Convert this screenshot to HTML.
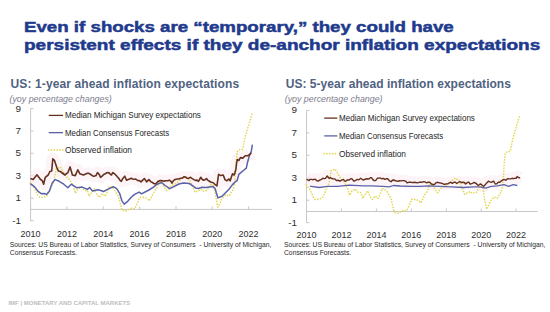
<!DOCTYPE html>
<html><head><meta charset="utf-8">
<style>
html,body{margin:0;padding:0;background:#fff;}
body{width:550px;height:312px;position:relative;overflow:hidden;font-family:"Liberation Sans",sans-serif;}
.t{position:absolute;left:24.2px;font-weight:bold;color:#213a8e;font-size:15.3px;-webkit-text-stroke:0.5px #1f3a8c;transform-origin:0 0;white-space:nowrap;line-height:18px;}
.lg{position:absolute;font-size:8.6px;transform-origin:0 50%;color:#262626;white-space:nowrap;line-height:10px;}
.yl{position:absolute;width:30px;text-align:right;font-size:9.2px;transform:scaleX(1.08);transform-origin:100% 50%;color:#2e2e2e;line-height:10px;}
.xl{position:absolute;width:40px;text-align:center;font-size:9px;color:#2e2e2e;line-height:10px;}
.ct{position:absolute;font-weight:bold;font-size:12px;color:#506281;white-space:nowrap;line-height:14px;}
.cs{position:absolute;font-style:italic;font-size:8.85px;color:#7c7c8c;white-space:nowrap;line-height:10px;}
.src{position:absolute;font-size:6.75px;color:#2a2a2a;white-space:nowrap;line-height:8.7px;}
.ft{position:absolute;left:8.4px;top:299px;font-weight:bold;font-size:6px;color:#bdbdbd;white-space:nowrap;line-height:8px;}
svg{position:absolute;left:0;top:0;}
</style></head><body>
<svg width="550" height="312" viewBox="0 0 550 312">
<line x1="30.6" y1="108.3" x2="30.6" y2="221.5" stroke="#c8c8c8" stroke-width="1"/>
<line x1="30.6" y1="108.5" x2="33.6" y2="108.5" stroke="#c8c8c8" stroke-width="1"/>
<line x1="30.6" y1="130.9" x2="33.6" y2="130.9" stroke="#c8c8c8" stroke-width="1"/>
<line x1="30.6" y1="153.3" x2="33.6" y2="153.3" stroke="#c8c8c8" stroke-width="1"/>
<line x1="30.6" y1="175.8" x2="33.6" y2="175.8" stroke="#c8c8c8" stroke-width="1"/>
<line x1="30.6" y1="198.2" x2="33.6" y2="198.2" stroke="#c8c8c8" stroke-width="1"/>
<line x1="30.6" y1="220.6" x2="33.6" y2="220.6" stroke="#c8c8c8" stroke-width="1"/>
<line x1="30.6" y1="209.4" x2="272" y2="209.4" stroke="#c8c8c8" stroke-width="1"/>
<line x1="30.6" y1="206.4" x2="30.6" y2="209.4" stroke="#c8c8c8" stroke-width="1"/>
<line x1="66.9" y1="206.4" x2="66.9" y2="209.4" stroke="#c8c8c8" stroke-width="1"/>
<line x1="103.3" y1="206.4" x2="103.3" y2="209.4" stroke="#c8c8c8" stroke-width="1"/>
<line x1="139.6" y1="206.4" x2="139.6" y2="209.4" stroke="#c8c8c8" stroke-width="1"/>
<line x1="176.0" y1="206.4" x2="176.0" y2="209.4" stroke="#c8c8c8" stroke-width="1"/>
<line x1="212.3" y1="206.4" x2="212.3" y2="209.4" stroke="#c8c8c8" stroke-width="1"/>
<line x1="248.6" y1="206.4" x2="248.6" y2="209.4" stroke="#c8c8c8" stroke-width="1"/>
<path d="M30.4,178.6 L33.2,179.6 L37.0,174.8 L40.1,179.0 L42.4,180.8 L43.6,184.2 L45.3,177.3 L48.2,175.0 L49.9,171.5 L51.7,171.0 L52.8,158.8 L54.4,160.3 L56.8,167.5 L58.3,170.9 L60.3,171.5 L64.9,175.0 L67.8,172.7 L70.1,166.9 L72.4,175.0 L75.3,175.6 L77.8,169.8 L79.9,173.8 L83.4,175.0 L87.4,173.3 L88.5,173.3 L90.0,174.0 L91.6,175.1 L93.1,176.2 L94.5,176.1 L96.0,175.6 L97.5,172.5 L99.0,174.2 L100.6,177.3 L102.1,176.1 L103.7,174.5 L105.2,173.8 L106.5,173.0 L107.9,172.6 L109.2,172.9 L110.3,174.3 L111.5,175.0 L112.7,172.7 L114.2,173.5 L115.8,175.0 L117.3,176.7 L118.6,178.1 L120.0,180.3 L121.3,181.3 L123.0,178.2 L124.8,176.2 L126.5,180.2 L128.1,179.5 L129.6,178.9 L131.2,178.2 L132.7,179.0 L134.3,179.2 L135.8,179.0 L137.5,180.5 L139.3,180.6 L141.0,181.9 L142.7,180.1 L144.4,178.5 L146.6,181.9 L147.8,180.6 L148.9,179.6 L150.7,181.6 L152.4,182.5 L154.1,183.7 L155.8,183.7 L157.6,181.8 L159.3,180.8 L160.8,180.5 L162.4,180.8 L163.9,181.3 L165.3,180.7 L166.8,180.7 L168.2,180.6 L169.7,180.2 L170.8,181.3 L172.0,183.1 L173.4,180.7 L174.9,179.6 L176.2,179.3 L177.6,179.0 L178.9,179.0 L180.6,178.3 L182.4,178.1 L184.1,176.7 L185.8,177.3 L187.0,178.2 L188.2,178.5 L189.3,177.9 L190.5,177.3 L192.2,178.6 L193.9,179.6 L195.4,180.4 L197.0,180.1 L198.5,181.3 L200.7,177.3 L202.1,179.3 L203.6,180.2 L205.1,179.7 L206.5,178.5 L207.9,180.4 L209.4,181.3 L211.1,182.3 L212.8,182.5 L216.9,186.0 L218.6,174.4 L220.9,175.6 L223.2,175.0 L225.0,179.6 L226.7,180.8 L229.0,179.0 L230.2,180.8 L232.5,173.8 L234.2,175.0 L235.9,169.2 L236.6,163.0 L237.3,159.5 L238.9,160.5 L240.4,157.6 L242.8,158.1 L245.2,155.7 L247.6,155.7 L249.5,154.7 L251.0,152.8" fill="none" stroke="#fbe3ee" stroke-width="12" stroke-linejoin="round" opacity="0.4"/>
<path d="M30.4,182.9 L33.8,186.9 L37.8,195.0 L39.5,197.3 L43.0,197.3 L46.5,196.2 L49.3,191.5 L51.7,185.8 L54.0,181.2 L56.3,168.7 L60.3,167.0 L66.1,176.2 L69.5,179.6 L73.6,186.5 L75.3,193.3 L77.6,189.2 L81.1,186.9 L84.5,190.4 L87.4,190.4 L89.0,196.2 L91.9,192.1 L94.2,188.7 L97.1,195.0 L99.4,197.3 L102.3,193.8 L105.2,196.2 L106.9,192.7 L109.2,186.3 L113.8,188.7 L118.5,196.2 L120.2,203.1 L121.9,210.0 L125.4,211.2 L131.2,208.3 L134.6,208.8 L137.5,203.1 L139.8,197.3 L142.7,197.3 L144.3,197.3 L147.2,198.5 L149.5,200.8 L151.2,197.3 L153.5,192.7 L156.4,189.2 L159.3,181.0 L161.6,181.9 L164.5,187.7 L166.8,190.6 L170.8,186.0 L176.6,183.1 L182.4,177.9 L185.8,176.2 L189.3,179.0 L192.8,187.1 L195.1,192.3 L198.5,190.6 L201.4,189.3 L202.5,191.2 L207.1,190.6 L210.5,184.5 L214.0,185.0 L216.3,199.6 L218.0,207.1 L220.3,202.5 L222.1,198.5 L225.5,195.0 L229.0,196.2 L232.5,190.4 L234.2,186.3 L235.3,176.2 L236.3,160.0 L237.5,150.9 L239.9,149.4 L242.3,149.4 L243.3,146.5 L244.2,140.8 L245.7,135.0 L252.3,113.5" fill="none" stroke="#e2d855" stroke-width="1.7" stroke-linecap="round" stroke-dasharray="0.01 2.8"/>
<path d="M30.4,183.7 L34.9,187.1 L38.4,191.7 L41.3,193.7 L44.2,193.5 L46.5,194.4 L49.3,191.2 L52.2,183.1 L55.1,179.6 L59.2,181.3 L63.8,184.2 L67.8,187.7 L71.3,184.2 L76.5,187.7 L82.2,187.1 L87.4,189.4 L89.6,187.5 L92.5,191.0 L97.7,189.8 L100.0,190.2 L103.5,191.5 L108.1,189.2 L113.3,186.7 L116.7,188.7 L119.6,193.3 L121.9,200.8 L124.2,204.2 L127.7,201.3 L131.2,197.3 L134.6,194.4 L139.2,192.1 L141.5,193.8 L148.9,190.0 L153.5,187.1 L157.0,184.2 L161.6,182.5 L165.1,185.5 L169.7,188.7 L174.3,186.3 L178.9,184.0 L183.5,182.9 L189.3,183.5 L192.8,185.8 L195.7,188.1 L198.5,188.5 L202.0,187.3 L205.9,187.5 L212.8,186.4 L215.2,188.8 L216.3,192.7 L218.0,197.9 L222.1,196.2 L225.5,192.7 L229.0,189.2 L232.5,184.6 L235.9,181.2 L237.1,180.8 L238.8,174.4 L242.8,171.0 L246.3,168.1 L247.5,162.5 L249.5,155.2 L251.0,152.8 L252.4,144.6" fill="none" stroke="#5b62a8" stroke-width="1.5" stroke-linejoin="round"/>
<path d="M30.4,178.6 L33.2,179.6 L37.0,174.8 L40.1,179.0 L42.4,180.8 L43.6,184.2 L45.3,177.3 L48.2,175.0 L49.9,171.5 L51.7,171.0 L52.8,158.8 L54.4,160.3 L56.8,167.5 L58.3,170.9 L60.3,171.5 L64.9,175.0 L67.8,172.7 L70.1,166.9 L72.4,175.0 L75.3,175.6 L77.8,169.8 L79.9,173.8 L83.4,175.0 L87.4,173.3 L88.5,173.3 L90.0,174.0 L91.6,175.1 L93.1,176.2 L94.5,176.1 L96.0,175.6 L97.5,172.5 L99.0,174.2 L100.6,177.3 L102.1,176.1 L103.7,174.5 L105.2,173.8 L106.5,173.0 L107.9,172.6 L109.2,172.9 L110.3,174.3 L111.5,175.0 L112.7,172.7 L114.2,173.5 L115.8,175.0 L117.3,176.7 L118.6,178.1 L120.0,180.3 L121.3,181.3 L123.0,178.2 L124.8,176.2 L126.5,180.2 L128.1,179.5 L129.6,178.9 L131.2,178.2 L132.7,179.0 L134.3,179.2 L135.8,179.0 L137.5,180.5 L139.3,180.6 L141.0,181.9 L142.7,180.1 L144.4,178.5 L146.6,181.9 L147.8,180.6 L148.9,179.6 L150.7,181.6 L152.4,182.5 L154.1,183.7 L155.8,183.7 L157.6,181.8 L159.3,180.8 L160.8,180.5 L162.4,180.8 L163.9,181.3 L165.3,180.7 L166.8,180.7 L168.2,180.6 L169.7,180.2 L170.8,181.3 L172.0,183.1 L173.4,180.7 L174.9,179.6 L176.2,179.3 L177.6,179.0 L178.9,179.0 L180.6,178.3 L182.4,178.1 L184.1,176.7 L185.8,177.3 L187.0,178.2 L188.2,178.5 L189.3,177.9 L190.5,177.3 L192.2,178.6 L193.9,179.6 L195.4,180.4 L197.0,180.1 L198.5,181.3 L200.7,177.3 L202.1,179.3 L203.6,180.2 L205.1,179.7 L206.5,178.5 L207.9,180.4 L209.4,181.3 L211.1,182.3 L212.8,182.5 L216.9,186.0 L218.6,174.4 L220.9,175.6 L223.2,175.0 L225.0,179.6 L226.7,180.8 L229.0,179.0 L230.2,180.8 L232.5,173.8 L234.2,175.0 L235.9,169.2 L236.6,163.0 L237.3,159.5 L238.9,160.5 L240.4,157.6 L242.8,158.1 L245.2,155.7 L247.6,155.7 L249.5,154.7 L251.0,152.8" fill="none" stroke="#66301f" stroke-width="1.6" stroke-linejoin="round"/>
<line x1="48.7" y1="115.4" x2="63.1" y2="115.4" stroke="#66301f" stroke-width="1.3"/>
<line x1="48.7" y1="132.65" x2="63.1" y2="132.65" stroke="#5b62a8" stroke-width="1.3"/>
<line x1="48.7" y1="149.9" x2="63.1" y2="149.9" stroke="#e2d855" stroke-width="1.7" stroke-linecap="round" stroke-dasharray="0.01 2.8"/>
<line x1="306.5" y1="110.6" x2="306.5" y2="222.7" stroke="#c8c8c8" stroke-width="1"/>
<line x1="306.5" y1="110.4" x2="309.5" y2="110.4" stroke="#c8c8c8" stroke-width="1"/>
<line x1="306.5" y1="132.9" x2="309.5" y2="132.9" stroke="#c8c8c8" stroke-width="1"/>
<line x1="306.5" y1="155.3" x2="309.5" y2="155.3" stroke="#c8c8c8" stroke-width="1"/>
<line x1="306.5" y1="177.8" x2="309.5" y2="177.8" stroke="#c8c8c8" stroke-width="1"/>
<line x1="306.5" y1="200.2" x2="309.5" y2="200.2" stroke="#c8c8c8" stroke-width="1"/>
<line x1="306.5" y1="222.7" x2="309.5" y2="222.7" stroke="#c8c8c8" stroke-width="1"/>
<line x1="306.5" y1="211.5" x2="537.7" y2="211.5" stroke="#c8c8c8" stroke-width="1"/>
<line x1="306.5" y1="208.5" x2="306.5" y2="211.5" stroke="#c8c8c8" stroke-width="1"/>
<line x1="341.4" y1="208.5" x2="341.4" y2="211.5" stroke="#c8c8c8" stroke-width="1"/>
<line x1="376.4" y1="208.5" x2="376.4" y2="211.5" stroke="#c8c8c8" stroke-width="1"/>
<line x1="411.3" y1="208.5" x2="411.3" y2="211.5" stroke="#c8c8c8" stroke-width="1"/>
<line x1="446.3" y1="208.5" x2="446.3" y2="211.5" stroke="#c8c8c8" stroke-width="1"/>
<line x1="481.2" y1="208.5" x2="481.2" y2="211.5" stroke="#c8c8c8" stroke-width="1"/>
<line x1="516.1" y1="208.5" x2="516.1" y2="211.5" stroke="#c8c8c8" stroke-width="1"/>
<path d="M306.5,179.4 L307.6,179.7 L308.8,180.6 L310.2,179.4 L311.7,179.4 L312.9,179.7 L314.0,179.4 L315.3,179.2 L316.7,180.7 L318.0,181.2 L319.8,180.1 L321.5,179.4 L322.8,178.2 L324.2,178.7 L325.5,178.3 L327.2,176.0 L329.0,178.3 L330.3,177.6 L331.7,178.5 L333.0,178.8 L334.8,178.9 L336.5,180.6 L338.2,180.2 L339.9,181.2 L341.6,180.2 L343.4,179.4 L344.5,180.9 L345.7,181.2 L347.4,179.9 L349.2,180.0 L350.6,178.9 L352.0,178.8 L353.8,181.2 L355.5,180.5 L357.2,179.4 L358.9,179.7 L360.7,178.3 L362.1,179.3 L363.5,180.0 L365.2,179.2 L366.9,178.8 L368.6,179.1 L370.4,177.7 L371.5,177.7 L372.7,179.4 L374.1,180.6 L375.6,180.6 L377.3,178.3 L378.8,178.1 L380.4,178.0 L381.9,178.8 L383.4,178.4 L384.8,179.4 L386.2,178.8 L387.7,178.8 L389.4,180.8 L391.2,181.7 L392.4,180.3 L393.5,180.0 L395.0,180.5 L396.6,181.1 L398.1,181.2 L399.6,180.8 L401.2,180.9 L402.7,180.6 L404.2,180.6 L405.8,181.3 L407.3,182.9 L409.1,182.1 L410.8,182.3 L412.5,182.6 L414.2,182.3 L415.9,182.5 L417.7,182.9 L419.1,182.3 L420.5,182.3 L422.2,182.2 L423.9,181.7 L425.4,182.2 L426.8,182.9 L428.2,182.2 L429.7,182.3 L431.4,184.0 L433.2,184.6 L434.7,184.2 L436.3,182.6 L437.8,182.3 L439.3,182.8 L440.9,183.1 L442.4,183.5 L444.1,184.4 L445.8,184.0 L447.6,183.9 L449.3,182.9 L450.8,182.3 L452.4,183.4 L453.9,182.3 L455.4,182.2 L456.8,183.5 L458.2,182.5 L459.7,181.7 L461.4,182.5 L463.2,182.3 L464.4,182.5 L465.5,184.0 L466.6,183.1 L467.8,182.3 L469.0,182.3 L470.1,184.0 L471.4,183.7 L472.7,183.3 L474.0,182.3 L475.1,183.0 L476.3,183.5 L477.5,185.0 L478.6,185.2 L479.8,184.3 L480.9,184.0 L482.4,185.5 L483.8,186.3 L485.2,184.8 L486.7,182.9 L488.4,181.2 L489.9,181.9 L491.3,182.3 L492.5,181.7 L493.6,181.2 L495.3,184.0 L496.8,183.8 L498.2,182.3 L499.9,182.3 L501.7,180.6 L502.9,180.0 L504.0,179.4 L505.1,180.0 L506.3,180.0 L507.5,178.6 L508.6,178.8 L510.4,178.9 L512.1,178.3 L513.5,178.6 L515.0,178.3 L516.1,178.3 L517.3,176.5 L518.8,177.7 L520.2,177.7" fill="none" stroke="#fbe3ee" stroke-width="12" stroke-linejoin="round" opacity="0.4"/>
<path d="M306.3,185.0 L309.6,189.0 L313.4,197.1 L315.1,199.4 L318.4,199.4 L321.8,198.3 L324.5,193.6 L326.8,187.9 L329.0,183.2 L331.2,170.7 L335.1,169.0 L340.6,178.2 L343.9,181.6 L347.8,188.6 L349.5,195.4 L351.7,191.3 L355.1,189.0 L358.3,192.5 L361.1,192.5 L362.7,198.3 L365.4,194.2 L367.6,190.8 L370.4,197.1 L372.6,199.4 L375.4,195.9 L378.2,198.3 L379.9,194.8 L382.1,188.4 L386.5,190.8 L391.0,198.3 L392.6,205.2 L394.3,212.1 L397.6,213.3 L403.2,210.4 L406.5,210.9 L409.3,205.2 L411.5,199.4 L414.3,199.4 L415.8,199.4 L418.6,200.6 L420.8,202.9 L422.5,199.4 L424.7,194.8 L427.5,191.3 L430.2,183.0 L432.5,184.0 L435.2,189.8 L437.5,192.7 L441.3,188.1 L446.9,185.2 L452.5,179.9 L455.7,178.2 L459.1,181.0 L462.5,189.2 L464.7,194.4 L467.9,192.7 L470.7,191.4 L471.8,193.3 L476.2,192.7 L479.5,186.6 L482.8,187.1 L485.0,201.7 L486.7,209.2 L488.9,204.6 L490.6,200.6 L493.9,197.1 L497.3,198.3 L500.6,192.5 L502.3,188.4 L503.3,178.2 L504.3,162.0 L505.4,152.9 L507.7,151.4 L510.0,151.4 L511.0,148.5 L511.9,142.8 L513.3,137.0 L519.7,115.4" fill="none" stroke="#e2d855" stroke-width="1.7" stroke-linecap="round" stroke-dasharray="0.01 2.8"/>
<path d="M310.0,186.3 L311.1,186.3 L319.2,187.5 L327.2,186.3 L337.6,186.3 L349.2,185.2 L363.0,185.8 L371.5,185.8 L383.1,186.3 L388.8,186.9 L393.5,185.5 L400.4,186.0 L411.9,186.3 L420.0,186.3 L428.5,185.8 L440.1,186.3 L451.6,186.9 L463.2,187.5 L474.0,186.9 L479.8,186.9 L485.5,188.1 L491.3,186.3 L497.1,185.8 L504.0,184.6 L508.6,186.3 L513.2,184.6 L517.3,185.5" fill="none" stroke="#5b62a8" stroke-width="1.2999999999999998" stroke-linejoin="round"/>
<path d="M306.5,179.4 L307.6,179.7 L308.8,180.6 L310.2,179.4 L311.7,179.4 L312.9,179.7 L314.0,179.4 L315.3,179.2 L316.7,180.7 L318.0,181.2 L319.8,180.1 L321.5,179.4 L322.8,178.2 L324.2,178.7 L325.5,178.3 L327.2,176.0 L329.0,178.3 L330.3,177.6 L331.7,178.5 L333.0,178.8 L334.8,178.9 L336.5,180.6 L338.2,180.2 L339.9,181.2 L341.6,180.2 L343.4,179.4 L344.5,180.9 L345.7,181.2 L347.4,179.9 L349.2,180.0 L350.6,178.9 L352.0,178.8 L353.8,181.2 L355.5,180.5 L357.2,179.4 L358.9,179.7 L360.7,178.3 L362.1,179.3 L363.5,180.0 L365.2,179.2 L366.9,178.8 L368.6,179.1 L370.4,177.7 L371.5,177.7 L372.7,179.4 L374.1,180.6 L375.6,180.6 L377.3,178.3 L378.8,178.1 L380.4,178.0 L381.9,178.8 L383.4,178.4 L384.8,179.4 L386.2,178.8 L387.7,178.8 L389.4,180.8 L391.2,181.7 L392.4,180.3 L393.5,180.0 L395.0,180.5 L396.6,181.1 L398.1,181.2 L399.6,180.8 L401.2,180.9 L402.7,180.6 L404.2,180.6 L405.8,181.3 L407.3,182.9 L409.1,182.1 L410.8,182.3 L412.5,182.6 L414.2,182.3 L415.9,182.5 L417.7,182.9 L419.1,182.3 L420.5,182.3 L422.2,182.2 L423.9,181.7 L425.4,182.2 L426.8,182.9 L428.2,182.2 L429.7,182.3 L431.4,184.0 L433.2,184.6 L434.7,184.2 L436.3,182.6 L437.8,182.3 L439.3,182.8 L440.9,183.1 L442.4,183.5 L444.1,184.4 L445.8,184.0 L447.6,183.9 L449.3,182.9 L450.8,182.3 L452.4,183.4 L453.9,182.3 L455.4,182.2 L456.8,183.5 L458.2,182.5 L459.7,181.7 L461.4,182.5 L463.2,182.3 L464.4,182.5 L465.5,184.0 L466.6,183.1 L467.8,182.3 L469.0,182.3 L470.1,184.0 L471.4,183.7 L472.7,183.3 L474.0,182.3 L475.1,183.0 L476.3,183.5 L477.5,185.0 L478.6,185.2 L479.8,184.3 L480.9,184.0 L482.4,185.5 L483.8,186.3 L485.2,184.8 L486.7,182.9 L488.4,181.2 L489.9,181.9 L491.3,182.3 L492.5,181.7 L493.6,181.2 L495.3,184.0 L496.8,183.8 L498.2,182.3 L499.9,182.3 L501.7,180.6 L502.9,180.0 L504.0,179.4 L505.1,180.0 L506.3,180.0 L507.5,178.6 L508.6,178.8 L510.4,178.9 L512.1,178.3 L513.5,178.6 L515.0,178.3 L516.1,178.3 L517.3,176.5 L518.8,177.7 L520.2,177.7" fill="none" stroke="#66301f" stroke-width="1.4" stroke-linejoin="round"/>
<line x1="324.2" y1="118.1" x2="337.3" y2="118.1" stroke="#66301f" stroke-width="1.3"/>
<line x1="324.2" y1="135.9" x2="337.3" y2="135.9" stroke="#5b62a8" stroke-width="1.3"/>
<line x1="324.2" y1="153.7" x2="337.3" y2="153.7" stroke="#e2d855" stroke-width="1.7" stroke-linecap="round" stroke-dasharray="0.01 2.8"/>
</svg>
<div class="t" style="top:17.9px;transform:scaleX(1.222)">Even if shocks are “temporary,” they could have</div>
<div class="t" style="top:35.9px;transform:scaleX(1.242)">persistent effects if they de-anchor inflation expectations</div>
<div class="lg" style="left:64.5px;top:110.2px;transform:scaleX(0.939)">Median Michigan Survey expectations</div>
<div class="lg" style="left:64.5px;top:127.5px;transform:scaleX(0.917)">Median Consensus Forecasts</div>
<div class="lg" style="left:64.5px;top:144.7px;transform:scaleX(0.967)">Observed inflation</div>
<div class="yl" style="left:-9.399999999999999px;top:103.5px">9</div>
<div class="yl" style="left:-9.399999999999999px;top:125.9px">7</div>
<div class="yl" style="left:-9.399999999999999px;top:148.3px">5</div>
<div class="yl" style="left:-9.399999999999999px;top:170.8px">3</div>
<div class="yl" style="left:-9.399999999999999px;top:193.2px">1</div>
<div class="yl" style="left:-9.399999999999999px;top:215.6px">-1</div>
<div class="xl" style="left:10.6px;top:228.6px">2010</div>
<div class="xl" style="left:46.9px;top:228.6px">2012</div>
<div class="xl" style="left:83.3px;top:228.6px">2014</div>
<div class="xl" style="left:119.6px;top:228.6px">2016</div>
<div class="xl" style="left:156.0px;top:228.6px">2018</div>
<div class="xl" style="left:192.3px;top:228.6px">2020</div>
<div class="xl" style="left:228.6px;top:228.6px">2022</div>
<div class="ct" style="left:10.5px;top:77px;letter-spacing:0.12px">US: 1-year ahead inflation expectations</div>
<div class="cs" style="left:9.5px;top:94px">(yoy percentage changes)</div>
<div class="src" style="left:9.8px;top:240.5px">Sources: US Bureau of Labor Statistics, Survey of Consumers &nbsp;- University of Michigan,<br>Consensus Forecasts.</div>
<div class="lg" style="left:338.5px;top:112.9px;transform:scaleX(0.939)">Median Michigan Survey expectations</div>
<div class="lg" style="left:338.5px;top:130.7px;transform:scaleX(0.917)">Median Consensus Forecasts</div>
<div class="lg" style="left:338.5px;top:148.5px;transform:scaleX(0.967)">Observed inflation</div>
<div class="yl" style="left:266.6px;top:105.4px">9</div>
<div class="yl" style="left:266.6px;top:127.9px">7</div>
<div class="yl" style="left:266.6px;top:150.3px">5</div>
<div class="yl" style="left:266.6px;top:172.8px">3</div>
<div class="yl" style="left:266.6px;top:195.2px">1</div>
<div class="yl" style="left:266.6px;top:217.7px">-1</div>
<div class="xl" style="left:286.5px;top:230.0px">2010</div>
<div class="xl" style="left:321.4px;top:230.0px">2012</div>
<div class="xl" style="left:356.4px;top:230.0px">2014</div>
<div class="xl" style="left:391.3px;top:230.0px">2016</div>
<div class="xl" style="left:426.3px;top:230.0px">2018</div>
<div class="xl" style="left:461.2px;top:230.0px">2020</div>
<div class="xl" style="left:496.1px;top:230.0px">2022</div>
<div class="ct" style="left:285.7px;top:77px;letter-spacing:0.03px">US: 5-year ahead inflation expectations</div>
<div class="cs" style="left:284.7px;top:94px">(yoy percentage change)</div>
<div class="src" style="left:284px;top:240.5px">Sources: US Bureau of Labor Statistics, Survey of Consumers &nbsp;- University of Michigan,<br>Consensus Forecasts.</div>
<div class="ft">IMF | MONETARY AND CAPITAL MARKETS</div>
</body></html>
